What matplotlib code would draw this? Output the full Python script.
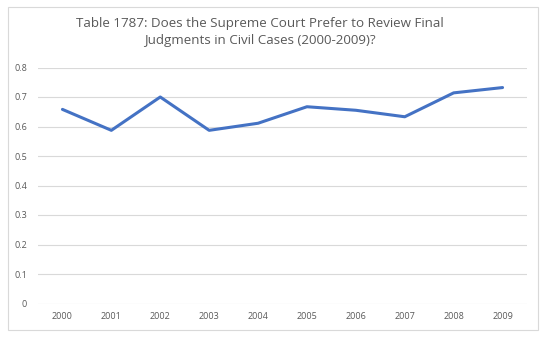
import matplotlib.pyplot as plt
from matplotlib.patches import Rectangle

years = ['2000', '2001', '2002', '2003', '2004', '2005', '2006', '2007', '2008', '2009']
values = [0.658, 0.587, 0.700, 0.587, 0.611, 0.667, 0.655, 0.633, 0.714, 0.732]
yticks = [0, 0.1, 0.2, 0.3, 0.4, 0.5, 0.6, 0.7, 0.8]
ylabels = ['0', '0.1', '0.2', '0.3', '0.4', '0.5', '0.6', '0.7', '0.8']

plt.rcParams['font.family'] = ['Open Sans', 'DejaVu Sans']

fig = plt.figure(figsize=(5.5, 3.37), dpi=100)
ax = fig.add_axes([38 / 550, 1 - 303.5 / 337, (527 - 38) / 550, (303.5 - 67.5) / 337])

# chart border
fig.patches.append(Rectangle((8 / 550, 1 - 330 / 337), 530 / 550, 323 / 337,
                             transform=fig.transFigure, fill=False,
                             edgecolor='#D9D9D9', linewidth=0.8))

x = range(len(years))
ax.plot(x, values, color='#4472C4', linewidth=2.2, solid_capstyle='round', zorder=3)

ax.set_xlim(-0.5, len(years) - 0.5)
ax.set_ylim(0, 0.8)
ax.set_yticks(yticks)
ax.set_yticklabels(ylabels)
ax.set_xticks(list(x))
ax.set_xticklabels(years)
ax.grid(axis='y', color='#D9D9D9', linewidth=0.8)
ax.set_axisbelow(True)
for s in ax.spines.values():
    s.set_visible(False)
ax.tick_params(length=0, labelsize=6.5, labelcolor='#595959')
ax.tick_params(axis='y', pad=8)
ax.tick_params(axis='x', pad=6)

fig.text(260 / 550, 1 - 32 / 337,
         'Table 1787: Does the Supreme Court Prefer to Review Final\nJudgments in Civil Cases (2000-2009)?',
         ha='center', va='center', fontsize=9.6, color='#595959', linespacing=1.45)

fig.savefig('out.png', dpi=100)
